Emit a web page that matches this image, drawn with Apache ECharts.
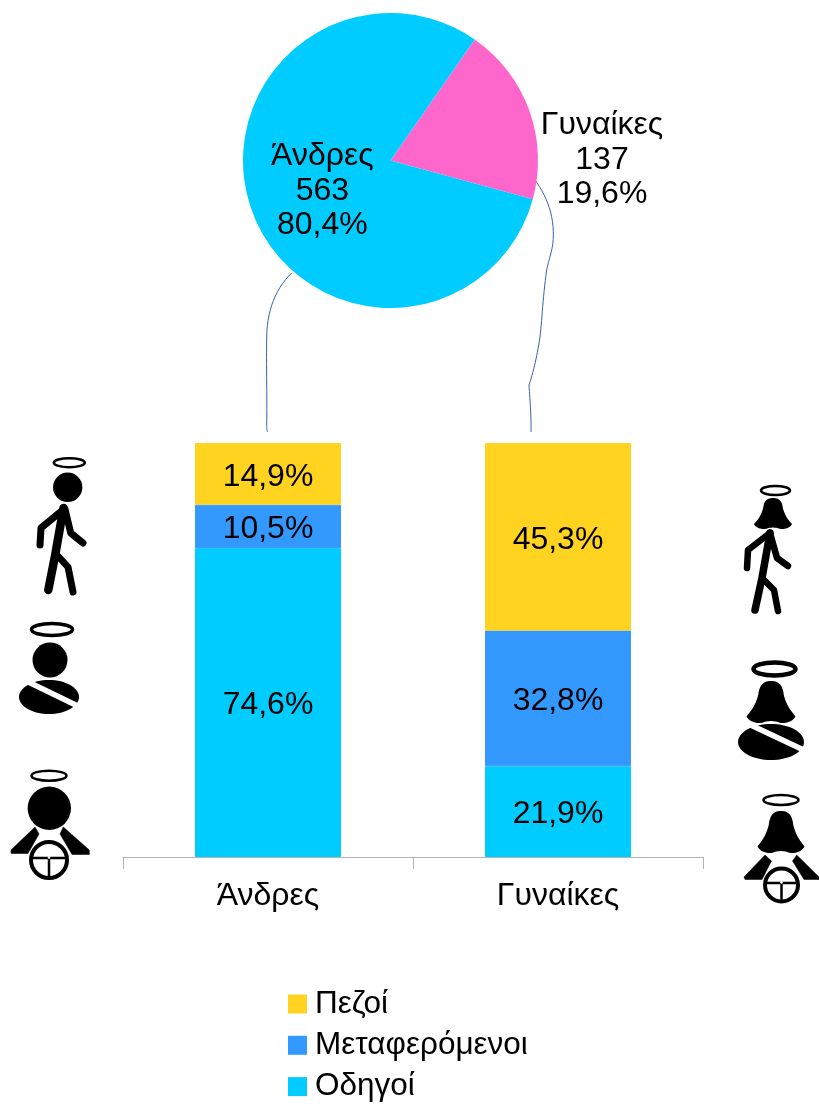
<!DOCTYPE html>
<html>
<head>
<meta charset="utf-8">
<style>html,body{margin:0;padding:0;background:#fff}#c{width:819px;height:1104px}</style>
<script src="https://cdn.jsdelivr.net/npm/echarts@6/dist/echarts.min.js"></script>
</head>
<body>
<div id="c"></div>
<script>
const categories = ['Άνδρες', 'Γυναίκες'];
const drivers = [74.6, 21.9];
const passengers = [10.5, 32.8];
const pedestrians = [14.9, 45.3];
const pieNames = ['Γυναίκες', 'Άνδρες'];
const pieValues = [137, 563];
const FONT = '"Liberation Sans"';
const comma = v => String(v).replace('.', ',');
const barLabel = {show: true, position: 'inside', color: '#000', fontSize: 32, fontFamily: FONT, offset: [0, 3],
  formatter: p => comma(p.value.toFixed(1)) + '%'};
const barStyle = color => ({color, borderColor: color, borderWidth: 1});

// sample a chain of cubic beziers [x0,y0, c1x,c1y,c2x,c2y,x,y, ...] into points
function sample(c) {
  const pts = [[c[0], c[1]]];
  for (let i = 2; i + 5 < c.length; i += 6) {
    const x0 = c[i - 2], y0 = c[i - 1];
    for (let k = 1; k <= 14; k++) {
      const t = k / 14, u = 1 - t;
      pts.push([
        u*u*u*x0 + 3*u*u*t*c[i] + 3*u*t*t*c[i+2] + t*t*t*c[i+4],
        u*u*u*y0 + 3*u*u*t*c[i+1] + 3*u*t*t*c[i+3] + t*t*t*c[i+5]
      ]);
    }
  }
  return pts;
}
function halo(cx, cy, rx, ry, w) {
  return {type: 'ellipse', shape: {cx, cy, rx, ry}, style: {fill: 'none', stroke: '#000', lineWidth: w}};
}
function head(cx, cy, r) {
  return {type: 'circle', shape: {cx, cy, r}, style: {fill: '#000'}};
}
function line(points, w) {
  return {type: 'polyline', shape: {points}, style: {fill: 'none', stroke: '#000', lineWidth: w, lineCap: 'round', lineJoin: 'round'}};
}
function poly(points) {
  return {type: 'polygon', shape: {points}, style: {fill: '#000', stroke: '#000', lineWidth: 0.5, lineJoin: 'round'}};
}
function bell(cx, top, w, h) {
  const u = [0,0, -.16,0, -.24,.1, -.26,.33, -.3,.5, -.36,.66, -.5,.84, -.45,.98, -.25,1.04, -.12,.97,
    -.05,.95, .05,.95, .12,.97, .25,1.04, .45,.98, .5,.84, .36,.66, .3,.5, .26,.33, .24,.1, .16,0, 0,0];
  const c = u.map((v, i) => i % 2 ? top + v * h : cx + v * w);
  return {type: 'polygon', shape: {points: sample(c)}, style: {fill: '#000'}};
}
function wheel(cx, cy, r, w) {
  return [
    {type: 'circle', shape: {cx, cy, r}, style: {fill: '#fff', stroke: '#000', lineWidth: w}},
    {type: 'line', shape: {x1: cx - r, y1: cy - 2, x2: cx + r, y2: cy - 2}, style: {stroke: '#000', lineWidth: 2.5}},
    {type: 'line', shape: {x1: cx, y1: cy - 2, x2: cx, y2: cy + r}, style: {stroke: '#000', lineWidth: 2.5}},
    {type: 'circle', shape: {cx, cy: cy - 2.5, r: 1.3}, style: {fill: '#fff'}}
  ];
}
function seat(cx, cy, rx, ry, x1, y1, x2, y2, w) {
  return [
    {type: 'ellipse', shape: {cx, cy, rx, ry}, style: {fill: '#000'}},
    {type: 'line', shape: {x1, y1, x2, y2}, style: {stroke: '#fff', lineWidth: w}}
  ];
}
function curve(c) {
  return {type: 'polyline', shape: {points: sample(c)}, style: {fill: 'none', stroke: '#3465a4', lineWidth: 1}};
}

const graphics = [
  curve([291.7,273, 276,288, 267,310, 266.7,337, 266.2,370, 267.2,400, 266.7,425, 266.7,428, 267,430, 267.5,432]),
  curve([531,175, 545,192, 554,212, 553.3,237, 553,250, 549,258, 546.7,270, 543,295, 542,320, 540,337, 537,356, 534,370, 529,385, 530,400, 531.3,415, 531,432]),
  // walking man
  halo(69.3, 462.7, 15.5, 4.5, 2.5), head(67.7, 487.3, 14.7),
  line([[64, 509], [41, 528], [40, 545]], 7), line([[65, 509], [70.7, 533], [83, 543]], 7),
  line([[63.5, 508], [55, 556], [48.3, 590]], 8.5), line([[56, 554], [68, 567], [73, 592]], 7),
  // passenger man
  ...seat(49, 697, 30, 17, 18, 677, 86, 710, 5.5),
  halo(52, 629.5, 20.5, 6, 3.5), head(50, 660, 17.5),
  // driver man
  halo(49, 775.7, 17.5, 5, 2.5), head(49.3, 808.3, 21.7),
  poly([[35, 827], [11, 850], [11, 853.5], [28, 853.5], [39, 834]]),
  poly([[63.3, 827], [89.3, 850], [89.3, 854.5], [72, 854.5], [60, 834]]),
  ...wheel(49, 860, 18, 4),
  // walking woman
  halo(775.5, 490.5, 14.5, 4.5, 2.5), bell(773, 498, 38, 31),
  line([[770, 533], [748, 550], [747, 568]], 6.5), line([[770, 533], [777, 558], [788, 566]], 6.5),
  line([[770, 533], [762, 578], [755, 610]], 7.5), line([[762, 578], [774, 590], [778, 611]], 6.5),
  // passenger woman
  ...seat(771, 742, 33, 18, 740, 720, 810, 753, 5.5),
  halo(774.5, 669, 21, 6.5, 4.5), bell(771, 681, 49, 42),
  // driver woman
  halo(781, 800, 17.5, 5, 2.5), bell(781, 811, 47, 42),
  poly([[765, 855], [744, 877], [745, 879.5], [762, 879.5], [771.5, 861]]),
  poly([[796.7, 855], [819, 877], [819, 879.5], [804, 879.5], [792.5, 861]]),
  ...wheel(781.5, 885, 16.5, 4)
];

const chart = echarts.init(document.getElementById('c'), null, {renderer: 'canvas'});
chart.setOption({
  animation: false,
  backgroundColor: '#fff',
  grid: {left: 123, right: 116, top: 443, height: 414},
  legend: {
    orient: 'vertical', left: 288, top: 988, height: 200, padding: 0, icon: 'rect', itemWidth: 19, itemHeight: 19, itemGap: 9.3,
    itemStyle: {borderWidth: 0},
    textStyle: {fontFamily: FONT, fontSize: 31.5, color: '#000', padding: [2, 0, 0, 3]},
    data: ['Πεζοί', 'Μεταφερόμενοι', 'Οδηγοί']
  },
  xAxis: {
    type: 'category', data: categories,
    axisLine: {lineStyle: {color: '#b3b3b3', width: 1}},
    axisTick: {show: true, length: 12, lineStyle: {color: '#b3b3b3', width: 1}},
    axisLabel: {color: '#000', fontFamily: FONT, fontSize: 32, margin: 23}
  },
  yAxis: {type: 'value', min: 0, max: 100, show: false},
  series: [
    {name: 'Οδηγοί', type: 'bar', stack: 's', barWidth: 146, data: drivers, itemStyle: barStyle('#00CCFF'), label: barLabel},
    {name: 'Μεταφερόμενοι', type: 'bar', stack: 's', barWidth: 146, data: passengers, itemStyle: barStyle('#3399FF'), label: barLabel},
    {name: 'Πεζοί', type: 'bar', stack: 's', barWidth: 146, data: pedestrians, itemStyle: barStyle('#FFD320'), label: barLabel},
    {
      type: 'pie', center: [390.5, 160.5], radius: [0, 147.5], startAngle: 55.2, clockwise: true, minShowLabelAngle: 0,
      legendHoverLink: false,
      label: {
        color: '#000', fontFamily: FONT, fontSize: 32, lineHeight: 34.5, align: 'center',
        formatter: p => `${p.name}\n${p.value}\n${comma(p.percent.toFixed(1))}%`
      },
      labelLine: {show: false},
      data: [
        {name: pieNames[0], value: pieValues[0], itemStyle: {color: '#FF66CC'}, label: {position: 'outside'}},
        {name: pieNames[1], value: pieValues[1], itemStyle: {color: '#00CCFF'}, label: {position: 'inside', offset: [4, 4]}}
      ],
      labelLayout: p => p.dataIndex === 0 ? {x: 602, y: 160, align: 'center', verticalAlign: 'middle'} : {}
    }
  ],
  graphic: {elements: [{type: 'group', silent: true, z: 50, children: graphics}]}
});
</script>
</body>
</html>
